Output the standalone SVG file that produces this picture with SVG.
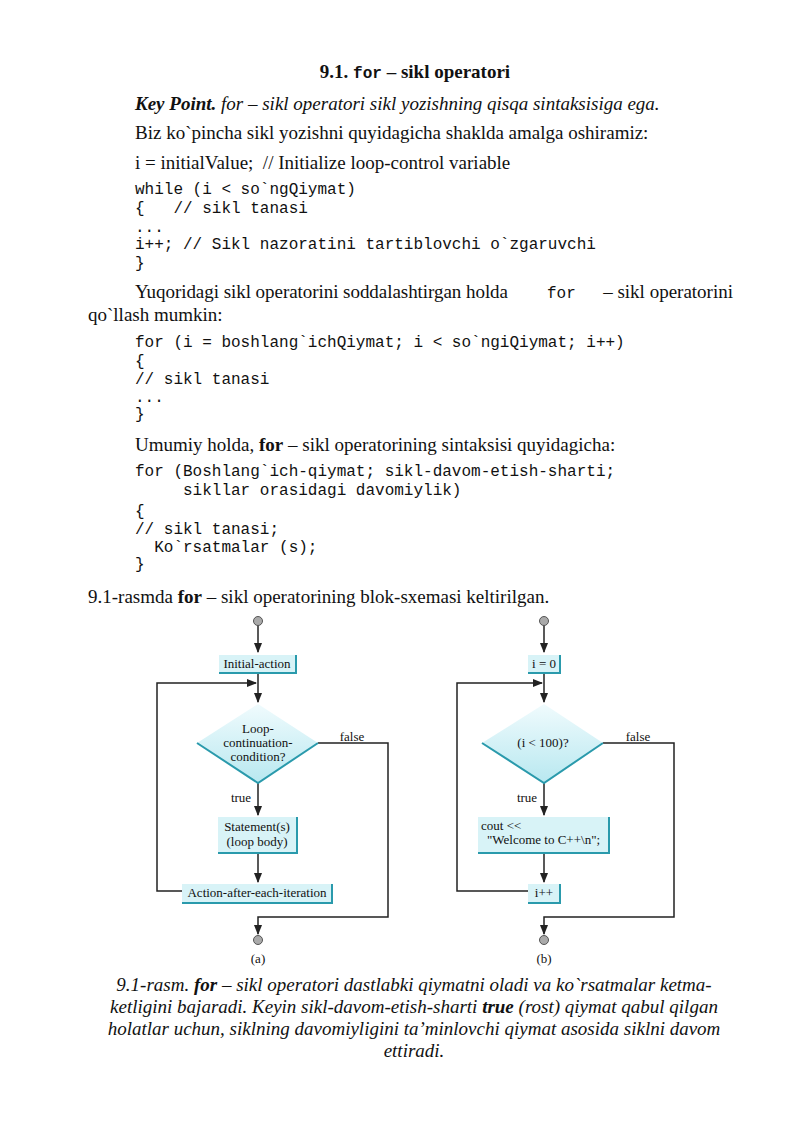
<svg xmlns="http://www.w3.org/2000/svg" width="800" height="1131" viewBox="0 0 800 1131">
<defs>
<style>
.t{font-family:"Liberation Serif",serif;font-size:19px;fill:#111}
.m{font-family:"Liberation Mono",monospace;font-size:16px;fill:#111;white-space:pre}
.i{font-style:italic}
.b{font-weight:bold}
.f{font-family:"Liberation Serif",serif;font-size:13px;fill:#111}
.box{fill:#d8f3f7}
.edge{fill:none;stroke:#2a9aac;stroke-width:2}
.ln{fill:none;stroke:#222;stroke-width:1.5}
.term{fill:#aaa;stroke:#555;stroke-width:1}
</style>
<marker id="ah" viewBox="0 0 10 10" refX="9" refY="5" markerWidth="7" markerHeight="7" orient="auto"><path d="M0,1 L10,5 L0,9 z" fill="#222"/></marker>
<linearGradient id="dg" x1="0" y1="0" x2="0" y2="1"><stop offset="0" stop-color="#f0fbfd"/><stop offset="1" stop-color="#b8e8f0"/></linearGradient>
</defs>
<rect width="800" height="1131" fill="#fff"/>
<text x="415" y="78" text-anchor="middle" class="t b">9.1. <tspan class="m b" font-size="18">for</tspan> – sikl operatori</text>
<text x="135" y="110" class="t i"><tspan class="b">Key Point.</tspan> for – sikl operatori sikl yozishning qisqa sintaksisiga ega.</text>
<text x="135" y="139" class="t">Biz ko`pincha sikl yozishni quyidagicha shaklda amalga oshiramiz:</text>
<text x="135" y="169" class="t" style="white-space:pre">i = initialValue;  // Initialize loop-control variable</text>
<text x="135" y="194" class="m">while (i &lt; so`ngQiymat)</text>
<text x="135" y="213" class="m">{   // sikl tanasi</text>
<text x="135" y="232" class="m">...</text>
<text x="135" y="249" class="m">i++; // Sikl nazoratini tartiblovchi o`zgaruvchi</text>
<text x="135" y="268" class="m">}</text>
<text x="135" y="298" class="t" textLength="373" lengthAdjust="spacing">Yuqoridagi sikl operatorini soddalashtirgan holda</text>
<text x="547" y="298" class="m" font-size="18">for</text>
<text x="733" y="298" class="t" text-anchor="end">– sikl operatorini</text>
<text x="88" y="321" class="t">qo`llash mumkin:</text>
<text x="135" y="347" class="m">for (i = boshlang`ichQiymat; i &lt; so`ngiQiymat; i++)</text>
<text x="135" y="366" class="m">{</text>
<text x="135" y="384" class="m">// sikl tanasi</text>
<text x="135" y="402" class="m">...</text>
<text x="135" y="419" class="m">}</text>
<text x="135" y="451" class="t">Umumiy holda, <tspan class="b">for</tspan> – sikl operatorining sintaksisi quyidagicha:</text>
<text x="135" y="476" class="m">for (Boshlang`ich-qiymat; sikl-davom-etish-sharti;</text>
<text x="135" y="495" class="m">     sikllar orasidagi davomiylik)</text>
<text x="135" y="516" class="m">{</text>
<text x="135" y="534" class="m">// sikl tanasi;</text>
<text x="135" y="552" class="m">  Ko`rsatmalar (s);</text>
<text x="135" y="569" class="m">}</text>
<text x="88" y="603" class="t">9.1-rasmda <tspan class="b">for</tspan> – sikl operatorining blok-sxemasi keltirilgan.</text>

<g id="connectors">
<path class="ln" d="M258,625 V652" marker-end="url(#ah)"/>
<path class="ln" d="M258,672 V702" marker-end="url(#ah)"/>
<path class="ln" d="M182,891 H157 V683 H256" marker-end="url(#ah)"/>
<path class="ln" d="M258,783 V815" marker-end="url(#ah)"/>
<path class="ln" d="M258,852 V882" marker-end="url(#ah)"/>
<path class="ln" d="M318,743 H388 V917 H258 V934" marker-end="url(#ah)"/>
<path class="ln" d="M544,625 V652" marker-end="url(#ah)"/>
<path class="ln" d="M544,672 V702" marker-end="url(#ah)"/>
<path class="ln" d="M528,891 H457 V683 H542" marker-end="url(#ah)"/>
<path class="ln" d="M544,783 V815" marker-end="url(#ah)"/>
<path class="ln" d="M544,852 V882" marker-end="url(#ah)"/>
<path class="ln" d="M603,743 H674 V917 H544 V934" marker-end="url(#ah)"/>
<text x="241" y="802" class="f" text-anchor="middle">true</text>
<text x="352" y="741" class="f" text-anchor="middle">false</text>
<text x="527" y="802" class="f" text-anchor="middle">true</text>
<text x="638" y="741" class="f" text-anchor="middle">false</text>
</g>

<g id="a-start"><circle cx="258" cy="621" r="4.5" class="term"/></g>
<g id="a-init"><rect x="219" y="655" width="77" height="17" class="box"/><path class="edge" d="M296,655 V673 H219"/><text x="257" y="668" class="f" text-anchor="middle">Initial-action</text></g>
<g id="a-cond"><path d="M258,704 L318,743 L258,783 L197,743 Z" fill="url(#dg)"/><path class="edge" d="M197,743 L258,783 L318,743"/>
<text x="258" y="733" class="f" text-anchor="middle">Loop-</text><text x="258" y="747" class="f" text-anchor="middle">continuation-</text><text x="258" y="761" class="f" text-anchor="middle">condition?</text></g>
<g id="a-body"><rect x="218" y="817" width="79" height="35" class="box"/><path class="edge" d="M297,817 V853 H218"/><text x="257" y="831" class="f" text-anchor="middle">Statement(s)</text><text x="257" y="846" class="f" text-anchor="middle">(loop body)</text></g>
<g id="a-act"><rect x="182" y="884" width="150" height="18" class="box"/><path class="edge" d="M332,884 V903 H182"/><text x="257" y="897" class="f" text-anchor="middle">Action-after-each-iteration</text></g>
<g id="a-end"><circle cx="258" cy="940" r="4.5" class="term"/><text x="258" y="963" class="f" text-anchor="middle">(a)</text></g>

<g id="b-start"><circle cx="544" cy="621" r="4.5" class="term"/></g>
<g id="b-init"><rect x="528" y="655" width="32" height="17" class="box"/><path class="edge" d="M560,655 V673 H528"/><text x="544" y="668" class="f" text-anchor="middle">i = 0</text></g>
<g id="b-cond"><path d="M544,704 L603,743 L544,783 L482,743 Z" fill="url(#dg)"/><path class="edge" d="M482,743 L544,783 L603,743"/><text x="543" y="747" class="f" text-anchor="middle">(i &lt; 100)?</text></g>
<g id="b-body"><rect x="478" y="817" width="131" height="35" class="box"/><path class="edge" d="M609,817 V853 H478"/><text x="481" y="830" class="f">cout &lt;&lt;</text><text x="487" y="844" class="f">"Welcome to C++\n";</text></g>
<g id="b-inc"><rect x="528" y="884" width="32" height="18" class="box"/><path class="edge" d="M560,884 V903 H528"/><text x="544" y="897" class="f" text-anchor="middle">i++</text></g>
<g id="b-end"><circle cx="544" cy="940" r="4.5" class="term"/><text x="544" y="963" class="f" text-anchor="middle">(b)</text></g>

<text x="414" y="991" class="t i" text-anchor="middle">9.1-rasm. <tspan class="b">for</tspan> – sikl operatori dastlabki qiymatni oladi va ko`rsatmalar ketma-</text>
<text x="414" y="1013" class="t i" text-anchor="middle">ketligini bajaradi. Keyin sikl-davom-etish-sharti <tspan class="b">true</tspan> (rost) qiymat qabul qilgan</text>
<text x="414" y="1035" class="t i" text-anchor="middle">holatlar uchun, siklning davomiyligini ta’minlovchi qiymat asosida siklni davom</text>
<text x="414" y="1057" class="t i" text-anchor="middle">ettiradi.</text>
</svg>
